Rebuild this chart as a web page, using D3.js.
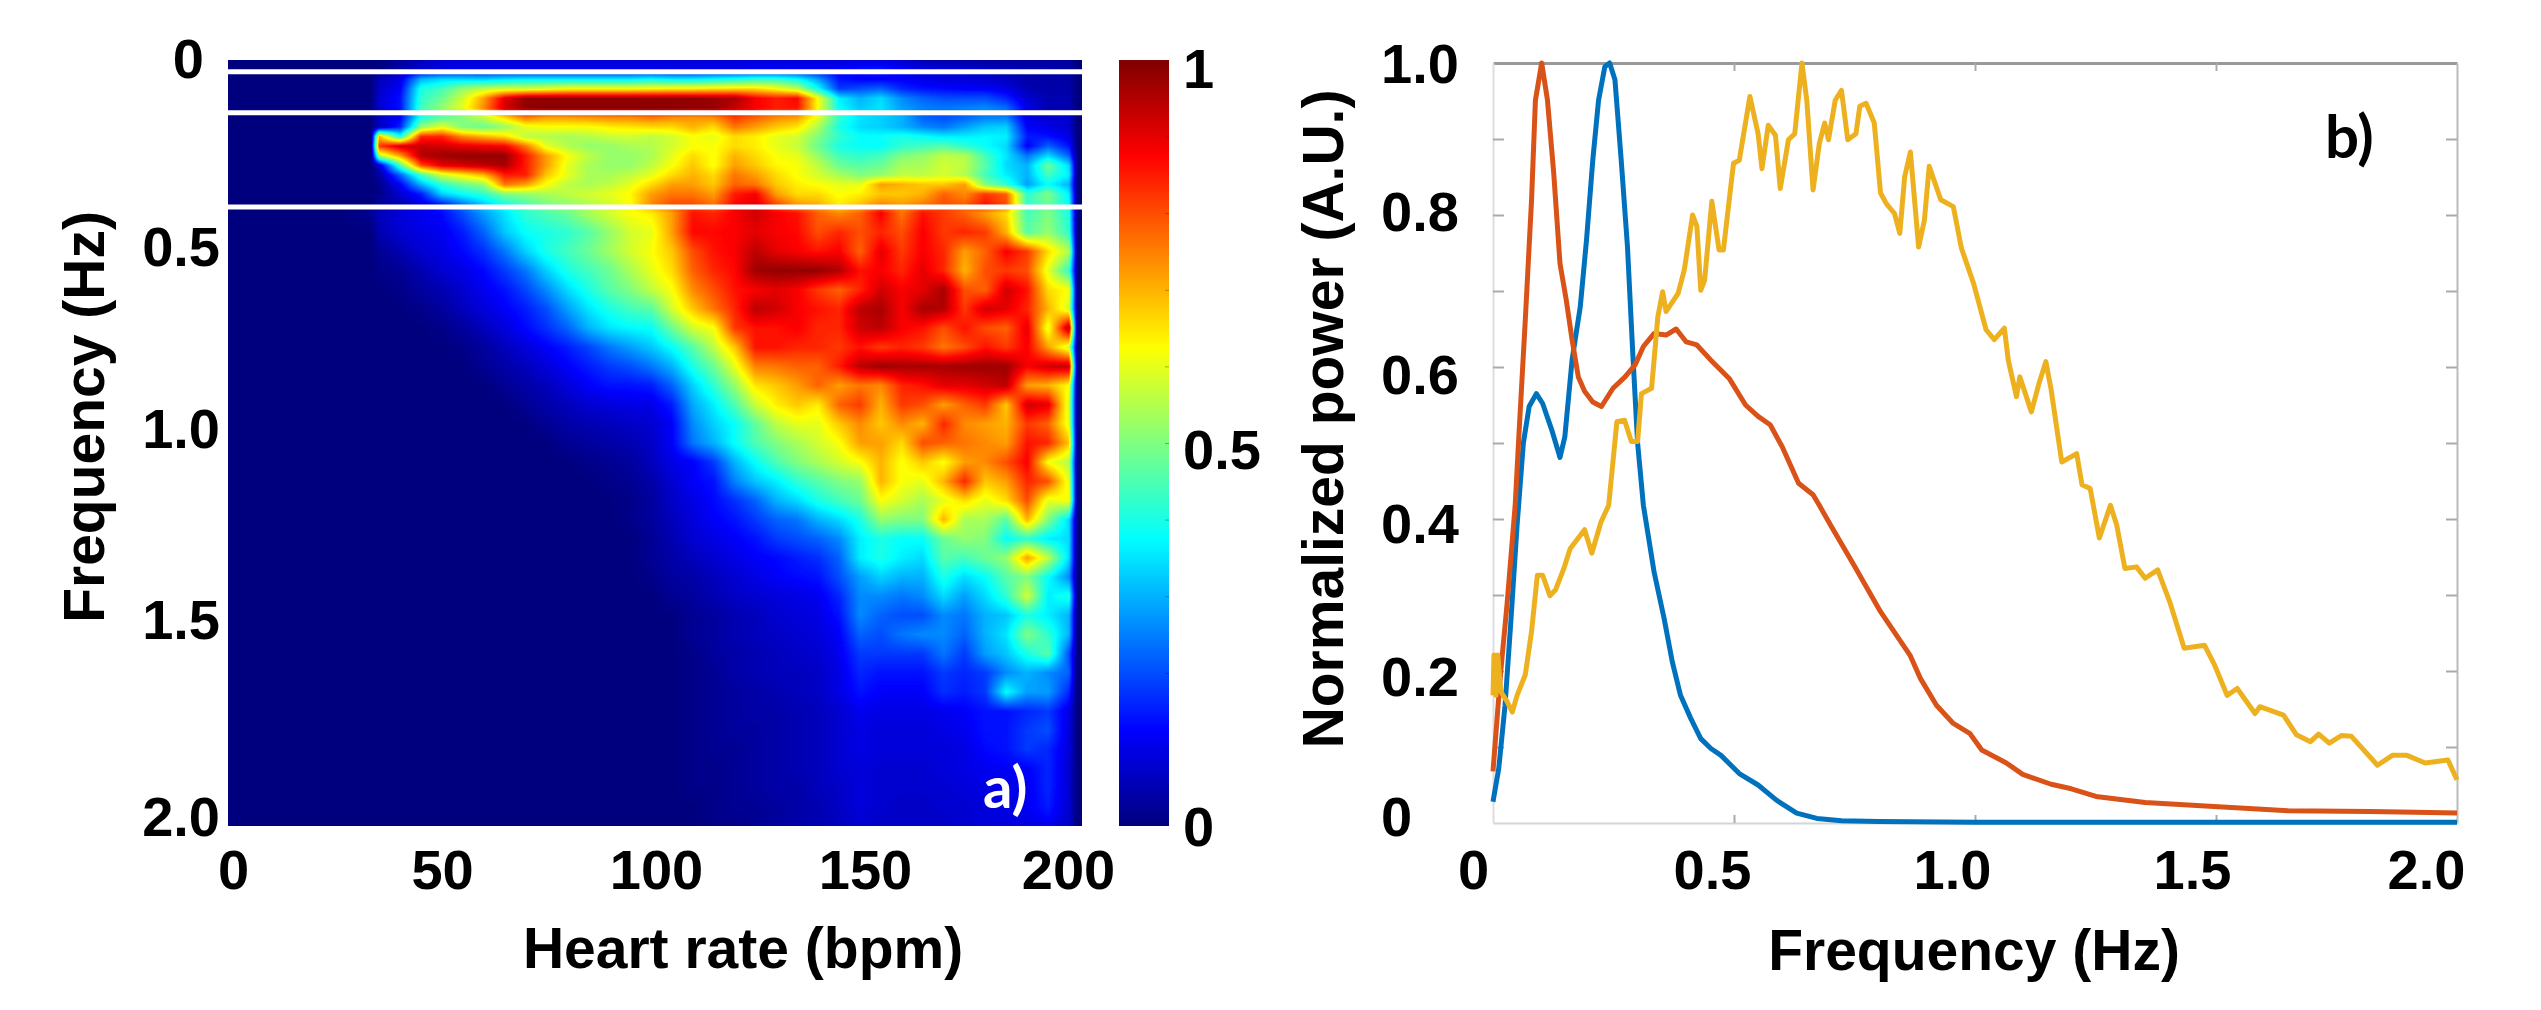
<!DOCTYPE html>
<html>
<head>
<meta charset="utf-8">
<script src="https://cdn.jsdelivr.net/npm/d3@7"></script>
<style>
  html, body { margin: 0; background: #fff; }
  #chart { position: relative; width: 2541px; height: 1010px; overflow: hidden; filter: blur(0.6px); }
  #chart canvas, #chart svg { position: absolute; }
  text { font-family: "Liberation Sans", Arial, sans-serif; font-weight: bold; fill: #000; }
</style>
</head>
<body>
<div id="chart"></div>
<script>
// panel a) columns and rows of the map
var heartRates = [0,5,10,15,20,25,30,33,35,40,45,50,55,60,65,70,75,80,85,90,95,100,105,110,115,120,125,130,135,140,145,150,155,160,165,170,175,180,185,190,195,200,202];
var frequencies = [0,0.025,0.05,0.075,0.1,0.125,0.15,0.175,0.2,0.225,0.25,0.275,0.3,0.325,0.35,0.375,0.4,0.45,0.5,0.55,0.6,0.65,0.7,0.75,0.8,0.85,0.9,0.95,1,1.05,1.1,1.15,1.2,1.25,1.3,1.35,1.4,1.45,1.5,1.55,1.6,1.65,1.7,1.75,1.8,1.85,1.9,1.95,2];
// percent of full scale, one line per row of frequencies
var heatValues = [
[0,0,0,0,0,0,0,0,0,3,6,8,9,9,9,9,9,9,9,9,9,9,9,9,9,9,9,9,9,9,9,9,9,8,5,4,4,3,3,3,3,3,0],
[0,0,0,0,0,0,0,0,0,4,8,10,11,11,11,11,11,11,11,11,11,11,11,11,11,11,12,12,12,12,12,14,15,12,10,9,8,7,6,5,5,4,0],
[0,0,0,0,0,0,0,0,6,10,30,34,34,33,35,36,36,36,36,36,36,38,36,36,38,40,42,42,38,28,14,12,12,12,10,9,9,8,6,4,4,4,0],
[0,0,0,0,0,0,0,0,7,12,40,44,52,56,58,58,60,62,62,62,62,63,64,64,65,66,66,62,56,38,18,20,22,16,14,13,12,12,10,5,4,4,0],
[0,0,0,0,0,0,0,0,8,14,42,48,58,72,90,98,98,98,98,98,98,98,98,98,97,96,88,85,87,62,36,30,34,26,22,20,20,20,16,8,5,5,0],
[0,0,0,0,0,0,0,0,8,14,44,52,60,74,92,98,99,99,99,99,99,99,99,98,98,93,88,85,86,62,38,32,35,28,25,24,25,26,23,10,5,5,0],
[0,0,0,0,0,0,0,0,7,12,40,46,50,56,66,76,72,72,73,74,74,76,74,73,74,82,78,74,72,60,42,35,33,30,22,20,22,25,25,10,8,8,0],
[0,0,0,0,0,0,0,0,6,16,52,60,50,48,52,60,62,62,62,64,65,66,66,70,66,76,72,68,65,54,40,34,33,30,26,24,28,32,33,12,10,8,0],
[0,0,0,0,0,0,0,0,70,40,84,84,74,70,66,56,55,54,55,57,58,56,58,62,60,66,64,60,58,50,42,38,38,40,38,36,36,37,36,15,14,10,0],
[0,0,0,0,0,0,0,0,82,92,93,92,90,89,88,76,60,55,52,52,54,55,58,62,62,66,64,60,57,48,40,38,38,42,44,46,42,38,34,12,22,14,0],
[0,0,0,0,0,0,0,0,55,72,95,97,98,98,98,85,72,62,56,52,52,54,60,66,62,70,66,62,60,52,44,42,44,50,52,56,55,44,35,24,34,22,0],
[0,0,0,0,0,0,0,0,8,45,80,90,92,94,96,85,72,60,54,52,52,56,62,68,62,72,68,63,62,56,48,46,48,54,54,58,56,46,34,30,48,34,0],
[0,0,0,0,0,0,0,0,3,22,44,58,64,70,85,85,68,60,54,54,56,60,66,70,66,76,72,66,62,58,54,50,52,56,56,58,55,44,36,30,44,36,0],
[0,0,0,0,0,0,0,0,1,12,30,42,48,52,76,72,62,56,54,56,60,66,72,72,68,78,76,68,64,62,60,60,72,70,68,68,72,50,42,28,38,30,0],
[0,0,0,0,0,0,0,0,1,8,15,33,38,42,50,52,54,56,58,60,63,72,76,76,72,85,88,72,66,66,62,64,68,68,70,78,74,82,78,42,50,36,0],
[0,0,0,0,0,0,0,0,3,5,10,16,25,33,40,45,50,52,55,58,62,74,80,80,76,87,90,80,72,70,64,68,74,72,75,80,78,86,80,42,48,38,0],
[0,0,0,0,0,0,1,2,6,9,11,13,20,28,35,42,45,48,54,58,62,64,72,86,84,88,92,88,86,78,74,78,88,76,86,82,78,72,66,44,50,40,0],
[0,0,0,0,0,0,0,0,5,8,10,11,15,22,32,38,40,42,46,52,58,60,72,87,87,88,90,88,87,80,84,80,84,80,88,82,84,82,70,46,52,42,0],
[0,0,0,0,0,0,0,0,2,5,8,10,13,17,24,33,40,44,48,53,58,62,68,80,86,88,94,90,88,86,88,78,90,82,88,84,72,78,88,82,66,55,0],
[0,0,0,0,0,0,0,0,1,2,5,8,10,13,18,24,33,40,44,48,54,60,66,78,84,87,97,98,98,98,95,86,88,84,90,84,70,80,82,80,60,42,0],
[0,0,0,0,0,0,0,0,0,1,3,5,8,11,14,19,26,34,40,46,50,56,62,74,80,86,88,90,88,82,78,84,92,88,90,96,80,78,92,86,66,62,0],
[0,0,0,0,0,0,0,0,0,0,1,3,6,9,12,15,20,28,35,40,44,46,58,68,76,84,94,92,88,86,84,94,96,88,96,95,82,92,90,84,70,58,0],
[0,0,0,0,0,0,0,0,0,0,0,1,3,6,9,13,17,22,30,35,37,38,48,58,62,82,86,86,88,84,84,92,94,88,86,80,86,80,78,90,60,96,0],
[0,0,0,0,0,0,0,0,0,0,0,0,1,3,6,9,12,15,19,24,28,32,38,46,56,68,86,86,84,84,82,86,82,84,82,76,80,86,82,88,72,58,0],
[0,0,0,0,0,0,0,0,0,0,0,0,0,2,4,6,9,12,15,18,20,24,30,40,48,60,75,76,78,78,85,94,97,96,96,96,97,97,97,88,92,94,0],
[0,0,0,0,0,0,0,0,0,0,0,0,0,0,2,4,6,9,12,14,14,15,22,33,42,52,65,68,72,78,72,76,74,84,86,90,90,92,94,72,70,62,0],
[0,0,0,0,0,0,0,0,0,0,0,0,0,0,0,2,4,6,8,9,10,10,15,29,36,45,57,64,68,64,78,82,70,82,80,72,78,82,68,92,90,58,0],
[0,0,0,0,0,0,0,0,0,0,0,0,0,0,0,0,2,4,5,6,7,8,12,26,33,38,47,56,60,60,68,74,68,74,70,84,74,72,70,82,78,60,0],
[0,0,0,0,0,0,0,0,0,0,0,0,0,0,0,0,0,2,3,4,5,7,12,24,30,38,45,50,54,58,62,72,72,66,80,78,76,74,72,86,84,68,0],
[0,0,0,0,0,0,0,0,0,0,0,0,0,0,0,0,0,0,1,2,3,6,10,12,18,30,38,45,50,54,58,62,70,62,68,62,72,74,80,88,62,55,0],
[0,0,0,0,0,0,0,0,0,0,0,0,0,0,0,0,0,0,0,1,2,4,8,12,14,25,32,36,42,46,50,52,70,62,60,70,84,68,72,84,80,60,0],
[0,0,0,0,0,0,0,0,0,0,0,0,0,0,0,0,0,0,0,0,1,3,7,10,13,17,22,30,34,40,44,48,62,58,54,60,66,60,66,80,60,62,0],
[0,0,0,0,0,0,0,0,0,0,0,0,0,0,0,0,0,0,0,0,1,3,6,9,12,14,18,22,24,30,34,40,52,50,50,70,54,54,46,70,50,34,0],
[0,0,0,0,0,0,0,0,0,0,0,0,0,0,0,0,0,0,0,0,0,2,5,8,10,12,14,18,20,22,26,36,40,38,38,48,52,50,38,42,36,34,0],
[0,0,0,0,0,0,0,0,0,0,0,0,0,0,0,0,0,0,0,0,0,2,4,6,8,10,12,13,15,17,22,36,40,36,34,46,44,48,52,72,56,34,0],
[0,0,0,0,0,0,0,0,0,0,0,0,0,0,0,0,0,0,0,0,0,1,3,4,6,8,10,12,13,14,20,28,33,30,30,40,34,38,46,50,38,26,0],
[0,0,0,0,0,0,0,0,0,0,0,0,0,0,0,0,0,0,0,0,0,0,2,3,5,7,8,9,10,11,16,26,26,24,26,34,28,34,42,58,36,40,0],
[0,0,0,0,0,0,0,0,0,0,0,0,0,0,0,0,0,0,0,0,0,0,0,2,3,5,6,8,9,10,14,26,22,20,20,26,24,30,32,40,36,30,0],
[0,0,0,0,0,0,0,0,0,0,0,0,0,0,0,0,0,0,0,0,0,0,0,2,3,5,6,7,8,9,12,22,20,24,26,26,22,30,35,50,42,30,0],
[0,0,0,0,0,0,0,0,0,0,0,0,0,0,0,0,0,0,0,0,0,0,0,1,3,4,5,6,7,8,11,18,18,18,18,24,18,28,32,40,46,20,0],
[0,0,0,0,0,0,0,0,0,0,0,0,0,0,0,0,0,0,0,0,0,0,0,1,2,4,5,6,6,7,10,16,14,14,14,18,16,18,26,30,26,22,0],
[0,0,0,0,0,0,0,0,0,0,0,0,0,0,0,0,0,0,0,0,0,0,0,1,2,3,4,5,6,7,10,14,12,12,12,17,15,18,38,28,28,16,0],
[0,0,0,0,0,0,0,0,0,0,0,0,0,0,0,0,0,0,0,0,0,0,0,1,2,3,4,4,5,6,8,11,10,10,10,11,12,14,14,16,18,10,0],
[0,0,0,0,0,0,0,0,0,0,0,0,0,0,0,0,0,0,0,0,0,0,0,1,2,3,3,4,5,6,8,10,9,9,9,10,11,14,14,18,20,9,0],
[0,0,0,0,0,0,0,0,0,0,0,0,0,0,0,0,0,0,0,0,0,0,0,1,2,2,3,4,5,6,8,10,9,9,9,9,10,13,14,18,16,9,0],
[0,0,0,0,0,0,0,0,0,0,0,0,0,0,0,0,0,0,0,0,0,0,0,1,1,2,3,4,5,6,8,9,8,8,8,9,10,11,12,12,16,8,0],
[0,0,0,0,0,0,0,0,0,0,0,0,0,0,0,0,0,0,0,0,0,0,0,1,1,2,3,4,4,6,7,9,8,8,8,8,9,10,10,11,16,8,0],
[0,0,0,0,0,0,0,0,0,0,0,0,0,0,0,0,0,0,0,0,0,0,0,0,1,2,2,3,4,5,7,9,8,7,7,8,8,9,10,11,15,8,0],
[0,0,0,0,0,0,0,0,0,0,0,0,0,0,0,0,0,0,0,0,0,0,0,0,1,1,2,3,4,5,6,8,7,7,7,7,8,9,9,10,11,7,0]
];
var whiteLineFreqs = [0.031, 0.138, 0.384];

var heatXTicks = [0, 50, 100, 150, 200];
var heatYTicks = [0, 0.5, 1, 1.5, 2];
var heatYLabels = ["0", "0.5", "1.0", "1.5", "2.0"];
var colorbarTicks = [0, 0.5, 1];
var colorbarLabels = ["0", "0.5", "1"];

// panel b) curves
var blueFreq = [0,0.012,0.025,0.037,0.05,0.063,0.075,0.09,0.103,0.122,0.139,0.149,0.164,0.181,0.194,0.207,0.219,0.232,0.242,0.253,0.266,0.279,0.29,0.3,0.312,0.334,0.355,0.372,0.389,0.41,0.431,0.452,0.473,0.511,0.55,0.588,0.63,0.672,0.723,0.8,1,1.5,2];
var bluePower = [0.028,0.072,0.155,0.265,0.392,0.5,0.548,0.565,0.552,0.517,0.481,0.508,0.609,0.679,0.767,0.872,0.951,0.995,1,0.978,0.872,0.758,0.618,0.5,0.418,0.331,0.269,0.212,0.168,0.138,0.111,0.098,0.089,0.065,0.05,0.03,0.013,0.006,0.003,0.002,0.001,0.001,0.001];
var redFreq = [0,0.016,0.029,0.046,0.054,0.067,0.08,0.088,0.101,0.113,0.126,0.139,0.152,0.164,0.177,0.19,0.207,0.225,0.249,0.274,0.295,0.312,0.334,0.359,0.38,0.401,0.423,0.452,0.49,0.524,0.55,0.575,0.6,0.634,0.664,0.677,0.702,0.749,0.804,0.865,0.887,0.92,0.955,0.989,1.014,1.065,1.099,1.158,1.2,1.251,1.353,1.514,1.65,1.819,1.913,2];
var redPower = [0.068,0.199,0.287,0.418,0.513,0.662,0.82,0.951,1,0.951,0.855,0.736,0.688,0.636,0.587,0.568,0.554,0.548,0.572,0.587,0.603,0.627,0.644,0.642,0.65,0.633,0.629,0.609,0.585,0.55,0.535,0.524,0.495,0.447,0.432,0.418,0.39,0.339,0.278,0.221,0.19,0.155,0.131,0.118,0.096,0.079,0.064,0.051,0.045,0.035,0.027,0.021,0.016,0.015,0.014,0.013];
var yellowFreq = [0,0.002,0.006,0.01,0.016,0.029,0.04,0.05,0.067,0.08,0.092,0.103,0.118,0.13,0.147,0.16,0.19,0.205,0.224,0.24,0.257,0.273,0.287,0.3,0.308,0.329,0.342,0.352,0.359,0.384,0.397,0.414,0.423,0.431,0.439,0.454,0.469,0.478,0.499,0.511,0.533,0.55,0.558,0.571,0.586,0.596,0.613,0.626,0.641,0.651,0.664,0.677,0.688,0.696,0.71,0.723,0.736,0.753,0.761,0.774,0.791,0.804,0.816,0.833,0.844,0.854,0.866,0.883,0.895,0.905,0.929,0.955,0.972,0.997,1.023,1.04,1.061,1.069,1.086,1.093,1.117,1.133,1.147,1.158,1.18,1.211,1.222,1.239,1.258,1.281,1.294,1.311,1.335,1.353,1.379,1.404,1.434,1.476,1.497,1.523,1.544,1.581,1.591,1.64,1.667,1.696,1.713,1.735,1.76,1.781,1.835,1.866,1.896,1.934,1.981,2];
var yellowPower = [0.168,0.221,0.168,0.221,0.173,0.16,0.146,0.168,0.195,0.252,0.326,0.326,0.299,0.307,0.335,0.361,0.386,0.355,0.396,0.418,0.528,0.53,0.502,0.502,0.565,0.572,0.666,0.699,0.673,0.697,0.728,0.8,0.785,0.701,0.714,0.818,0.754,0.754,0.868,0.872,0.956,0.907,0.861,0.918,0.905,0.835,0.899,0.907,1,0.951,0.833,0.894,0.921,0.899,0.951,0.964,0.899,0.907,0.943,0.947,0.921,0.829,0.815,0.802,0.776,0.85,0.883,0.758,0.793,0.864,0.82,0.811,0.756,0.71,0.649,0.636,0.651,0.609,0.561,0.587,0.541,0.579,0.607,0.57,0.475,0.486,0.445,0.44,0.375,0.418,0.392,0.335,0.337,0.322,0.333,0.291,0.23,0.234,0.208,0.168,0.177,0.144,0.153,0.142,0.116,0.107,0.117,0.105,0.115,0.114,0.076,0.089,0.089,0.079,0.083,0.057];

var powerXTicks = [0, 0.5, 1, 1.5, 2];
var powerXLabels = ["0", "0.5", "1.0", "1.5", "2.0"];
var powerYTicks = [0, 0.2, 0.4, 0.6, 0.8, 1];
var powerYLabels = ["0", "0.2", "0.4", "0.6", "0.8", "1.0"];
var powerYMinor = [0.1, 0.2, 0.3, 0.4, 0.5, 0.6, 0.7, 0.8, 0.9];
var powerXMinor = [0.5, 1, 1.5];

// layout
var heat = { left: 228, right: 1082, top: 60, bottom: 826 };
var bar = { left: 1119, right: 1169, top: 60, bottom: 826 };
var power = { left: 1493, right: 2457, top: 63, bottom: 823 };
var tickFont = 56;
var digitDrop = 20; // baseline below the centre of a digit

var xHeat = d3.scaleLinear().domain([-1.2, 203.1]).range([heat.left, heat.right]);
var yHeat = d3.scaleLinear().domain([0, 2]).range([heat.top, heat.bottom]);
var yBar = d3.scaleLinear().domain([0, 1]).range([bar.bottom, bar.top]);
var xPower = d3.scaleLinear().domain([0, 2]).range([power.left, power.right]);
var yPower = d3.scaleLinear().domain([0, 1]).range([power.bottom, power.top]);

var jetStops = [0, 12.5, 37.5, 62.5, 87.5, 100];
var jetColors = ["#00007f", "#0000ff", "#00ffff", "#ffff00", "#ff0000", "#7f0000"];
var jet = d3.scaleLinear().domain(jetStops).range(jetColors).clamp(true);

var chart = d3.select("#chart");

// map
function drawHeat() {
  var w = heat.right - heat.left, h = heat.bottom - heat.top;
  var canvas = chart.append("canvas")
    .attr("width", w).attr("height", h)
    .style("left", heat.left + "px").style("top", heat.top + "px");
  var ctx = canvas.node().getContext("2d");
  var img = ctx.createImageData(w, h);
  var lut = d3.range(256).map(function (i) { return d3.rgb(jet(i / 255 * 100)); });

  // bilinear lookup between the table cells, the source image is smooth too
  function locate(list, v) {
    var i = Math.max(0, Math.min(list.length - 2, d3.bisectRight(list, v) - 1));
    var t = Math.max(0, Math.min(1, (v - list[i]) / (list[i + 1] - list[i])));
    return [i, t];
  }
  var cols = [];
  for (var px = 0; px < w; px++) cols.push(locate(heartRates, xHeat.invert(heat.left + px + 0.5)));

  for (var py = 0; py < h; py++) {
    var r = locate(frequencies, yHeat.invert(heat.top + py + 0.5));
    var a = heatValues[r[0]], b = heatValues[r[0] + 1];
    for (var qx = 0; qx < w; qx++) {
      var c = cols[qx], i = c[0], t = c[1];
      var top = a[i] * (1 - t) + a[i + 1] * t;
      var bot = b[i] * (1 - t) + b[i + 1] * t;
      var v = top * (1 - r[1]) + bot * r[1];
      var col = lut[Math.round(v / 100 * 255)];
      var k = (py * w + qx) * 4;
      img.data[k] = col.r; img.data[k + 1] = col.g; img.data[k + 2] = col.b; img.data[k + 3] = 255;
    }
  }
  ctx.putImageData(img, 0, 0);
}
drawHeat();

var svg = chart.append("svg").attr("width", 2541).attr("height", 1010);

svg.selectAll(".white-line")
  .data(whiteLineFreqs)
  .enter()
  .append("line")
  .attr("class", "white-line")
  .attr("x1", heat.left).attr("x2", heat.right)
  .attr("y1", function (d) { return yHeat(d); })
  .attr("y2", function (d) { return yHeat(d); })
  .attr("stroke", "#fff").attr("stroke-width", 5);

// colour bar
var grad = svg.append("defs").append("linearGradient")
  .attr("id", "jetBar").attr("x1", 0).attr("y1", 1).attr("x2", 0).attr("y2", 0);
grad.selectAll("stop").data(jetStops).enter().append("stop")
  .attr("offset", function (d) { return d + "%"; })
  .attr("stop-color", function (d) { return jet(d); });
svg.append("rect")
  .attr("x", bar.left).attr("y", bar.top)
  .attr("width", bar.right - bar.left).attr("height", bar.bottom - bar.top)
  .attr("fill", "url(#jetBar)");
svg.append("g")
  .attr("transform", "translate(" + bar.right + ",0)")
  .call(d3.axisLeft(yBar).tickValues(d3.range(1, 10).map(function (d) { return d / 10; })).tickSize(4).tickFormat(""))
  .call(function (g) { g.select(".domain").remove(); })
  .selectAll("line").attr("stroke", "rgba(0,0,0,0.3)");

// tick labels sit a little off their ticks in the reference, so each one carries a shift
function labelAxis(axis, x, y, anchor, shiftX, shiftY) {
  svg.append("g")
    .attr("transform", "translate(" + x + "," + y + ")")
    .call(axis.tickSize(0))
    .call(function (g) { g.select(".domain").remove(); g.selectAll("line").remove(); })
    .selectAll("text")
    .attr("x", 0).attr("y", 0).attr("dy", 0)
    .attr("text-anchor", anchor)
    .style("font-size", tickFont + "px")
    .attr("transform", function (d, i) { return "translate(" + shiftX[i] + "," + shiftY[i] + ")"; });
}
function labels(list) { return function (d, i) { return list[i]; }; }

labelAxis(d3.axisBottom(xHeat).tickValues(heatXTicks), 0, 889, "middle", [0, 0, 5, 5, -1], [0, 0, 0, 0, 0]);
labelAxis(d3.axisLeft(yHeat).tickValues(heatYTicks).tickFormat(labels(heatYLabels)), 220, 0, "end",
  [-16, 0, 0, 0, 0], [-3 + digitDrop, -6 + digitDrop, -16 + digitDrop, -16 + digitDrop, -11 + digitDrop]);
labelAxis(d3.axisRight(yBar).tickValues(colorbarTicks).tickFormat(labels(colorbarLabels)), 1183, 0, "start",
  [0, 0, 0], [-1 + digitDrop, 5 + digitDrop, 7 + digitDrop]);
labelAxis(d3.axisBottom(xPower).tickValues(powerXTicks).tickFormat(labels(powerXLabels)), 0, 889, "middle",
  [-20, -22, -23, -24, -31], [0, 0, 0, 0, 0]);
labelAxis(d3.axisLeft(yPower).tickValues(powerYTicks).tickFormat(labels(powerYLabels)), 1381, 0, "start",
  [0, 0, 0, 0, 0, 0], [-8 + digitDrop, 4 + digitDrop, 3 + digitDrop, 6 + digitDrop, -5 + digitDrop, -1 + digitDrop]);

// box of panel b
function boxAxis(axis, x, y, domainColor, domainWidth) {
  svg.append("g")
    .attr("transform", "translate(" + x + "," + y + ")")
    .call(axis.tickSizeOuter(0).tickFormat(""))
    .call(function (g) {
      g.select(".domain").attr("stroke", domainColor).attr("stroke-width", domainWidth);
      g.selectAll("line").attr("stroke", "#aaa").attr("stroke-width", 2);
    });
}
boxAxis(d3.axisTop(xPower).tickValues(powerXMinor).tickSizeInner(-8), 0, power.top, "#999", 3);
boxAxis(d3.axisBottom(xPower).tickValues(powerXMinor).tickSizeInner(-8), 0, power.bottom, "#d4d4d4", 2);
boxAxis(d3.axisLeft(yPower).tickValues(powerYMinor).tickSizeInner(-11), power.left, 0, "#ddd", 2);
boxAxis(d3.axisRight(yPower).tickValues(powerYMinor).tickSizeInner(-11), power.right, 0, "#bbb", 2);

// curves
var curves = [
  { freq: blueFreq, pow: bluePower, color: "#0072bd" },
  { freq: redFreq, pow: redPower, color: "#d95319" },
  { freq: yellowFreq, pow: yellowPower, color: "#edb120" }
];
curves.forEach(function (c) {
  var line = d3.line()
    .x(function (d, i) { return xPower(c.freq[i]); })
    .y(function (d) { return yPower(d); });
  svg.append("path")
    .attr("d", line(c.pow))
    .attr("fill", "none")
    .attr("stroke", c.color)
    .attr("stroke-width", 5)
    .attr("stroke-linejoin", "round");
});

// axis titles
function title(str, x, y, rotate) {
  svg.append("text")
    .attr("transform", "translate(" + x + "," + y + ")" + (rotate ? " rotate(-90)" : ""))
    .attr("text-anchor", "middle")
    .style("font-size", "57px")
    .text(str);
}
title("Heart rate (bpm)", 743, 968, false);
title("Frequency (Hz)", 104, 417, true);
title("Frequency (Hz)", 1974, 970, false);
title("Normalized power (A.U.)", 1343, 419, true);

// panel marks
svg.append("text").attr("x", 983).attr("y", 808)
  .style("font-family", "Lato, sans-serif").style("font-size", "58px").style("fill", "#fff").text("a)");
svg.append("text").attr("x", 2325).attr("y", 158)
  .style("font-family", "Lato, sans-serif").style("font-size", "60px").text("b)");
</script>
</body>
</html>
